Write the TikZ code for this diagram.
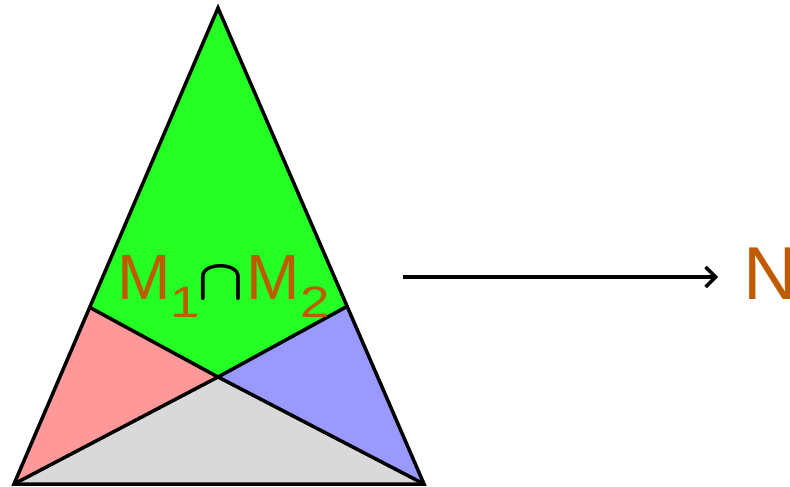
\documentclass[tikz,border=0pt]{standalone}
\usepackage{fontspec}
\setmainfont{Liberation Sans}
\usepackage{graphicx}
\usepackage{xcolor}
\usetikzlibrary{arrows.meta}

\definecolor{topgreen}{RGB}{36,255,36}
\definecolor{leftred}{RGB}{255,153,153}
\definecolor{rightblue}{RGB}{153,153,255}
\definecolor{basegray}{RGB}{217,217,217}
\definecolor{setbrown}{RGB}{191,90,0}

\newcommand{\subidx}[1]{\raisebox{-18pt}{\fontsize{44}{44}\selectfont\scalebox{1.2}[1]{#1}}}
\newcommand{\meetsym}{\kern-3pt{\color{black}\scalebox{6.1}[5.8]{\normalsize\boldmath$\cap$}}\kern3pt}

\begin{document}
\begin{tikzpicture}[
    x=1pt, y=-1pt,
    edge/.style={draw=black, line width=3.5pt},
    setlabel/.style={anchor=base west, inner sep=0pt, text=setbrown,
                     font=\fontsize{64}{64}\selectfont},
    target/.style={anchor=base west, inner sep=0pt, text=setbrown,
                   font=\fontsize{75}{75}\selectfont}
]
\useasboundingbox (0,0) rectangle (790,487);

% corners of the triangle and the inner meeting point
\coordinate (apex) at (218,8);
\coordinate (bl) at (14,484);
\coordinate (br) at (424,484);
\coordinate (lside) at (89,307);
\coordinate (rside) at (346,307);
\coordinate (mid) at (218,377);

% the four regions
\fill[topgreen] (apex) -- (rside) -- (mid) -- (lside) -- cycle;
\fill[leftred] (lside) -- (mid) -- (bl) -- cycle;
\fill[rightblue] (rside) -- (br) -- (mid) -- cycle;
\fill[basegray] (bl) -- (mid) -- (br) -- cycle;

% borders
\draw[edge] (lside) -- (mid) -- (rside);
\draw[edge] (bl) -- (mid) -- (br);
\draw[edge] (apex) -- (bl) -- (br) -- cycle;

\node[setlabel] (meet) at (117.3,299)
    {M\subidx{1}\meetsym M\subidx{2}};

\node[target] (img) at (743,299) {N};
\coordinate (mapstart) at (403,277);
\coordinate (mapend) at (718,277);
\draw[line width=3.5pt, -{Straight Barb[length=10pt, width=20pt, line width=3.5pt]}]
    (mapstart) -- (mapend);
\end{tikzpicture}
\end{document}
